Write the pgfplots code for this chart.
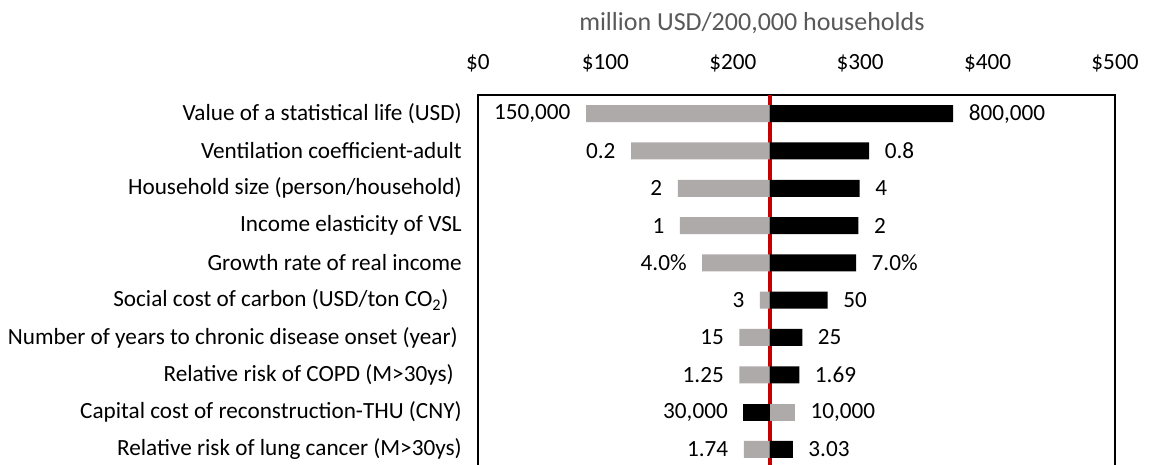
\documentclass[border=0pt]{standalone}
\usepackage{fontspec}
\setmainfont{Carlito}
\usepackage{pgfplots}
\usepackage{pgfplotstable}
\pgfplotsset{compat=1.18}
\definecolor{bargray}{RGB}{174,170,170}
\definecolor{basered}{RGB}{196,0,0}
\definecolor{titlegray}{RGB}{89,89,89}

% gray = result at low input, black = result at high input; base case = 229
\pgfplotstableread{
row gray black llab rlab
0 84.8 373.0 150,000 800,000
1 120.1 307.1 0.2 0.8
2 156.8 299.6 2 4
3 158.5 298.6 1 2
4 176.0 296.8 4.0\% 7.0\%
5 221.3 274.5 3 50
6 205.2 254.6 15 25
7 205.2 252.2 1.25 1.69
8 248.8 208.3 30,000 10,000
9 208.6 247.1 1.74 3.03
}\tornado

\newcommand{\lblfont}{\fontsize{17.4}{20.9}\selectfont}
\pgfplotsset{
  tornadoframe/.style={
    at={(0,0)}, anchor=north west,
    scale only axis, width=477.75pt, height=279.75pt,
    xmin=0, xmax=500, ymin=-0.5, ymax=9.5, y dir=reverse,
    clip=false,
  }
}

\begin{document}
\begin{tikzpicture}
\useasboundingbox (-358.5pt,71.25pt) rectangle (503.25pt,-276.75pt);
\clip (-358.5pt,71.25pt) rectangle (503.25pt,-276.75pt);
\begin{axis}[
  tornadoframe,
  xbar stacked, bar width=12.75pt,
  xtick={0,100,...,500},
  xticklabels={\$0,\$100,\$200,\$300,\$400,\$500},
  xticklabel pos=top,
  ytick={0,...,9},
  yticklabels={
    {Value of a statistical life (USD)},
    {Ventilation coefficient-adult},
    {Household size (person/household)},
    {Income elasticity of VSL},
    {Growth rate of real income},
    {Social cost of carbon (USD/ton CO\textsubscript{2})\hspace*{10pt}},
    {Number of years to chronic disease onset (year)\hspace*{3pt}},
    {Relative risk of COPD (M>30ys)\hspace*{6pt}},
    {Capital cost of reconstruction-THU (CNY)},
    {Relative risk of lung cancer (M>30ys)}},
  major tick length=0pt,
  axis line style={line width=0.8pt},
  tick label style={font=\lblfont},
  xticklabel style={anchor=base, yshift=19.5pt},
  yticklabel style={anchor=east, inner sep=0pt, xshift=-12pt},
  title={million USD/200,000 households},
  title style={at={(0.43,1)}, anchor=base, yshift=42.5pt,
    font=\fontsize{19.5}{23}\selectfont, text=titlegray},
]
\addplot[draw=none, fill=none]
  table[y=row, x expr={min(\thisrow{gray},\thisrow{black})}] {\tornado};
\addplot[draw=none, fill=bargray]
  table[y=row, x expr={max(229-\thisrow{gray},0)}] {\tornado};
\addplot[draw=none, fill=black]
  table[y=row, x expr={max(229-\thisrow{black},0)}] {\tornado};
\addplot[draw=none, fill=black]
  table[y=row, x expr={max(\thisrow{black}-229,0)}] {\tornado};
\addplot[draw=none, fill=bargray]
  table[y=row, x expr={max(\thisrow{gray}-229,0)}] {\tornado};
\addplot[basered, line width=3.2pt, sharp plot, stack plots=false, forget plot, no marks]
  coordinates {(229,-0.5) (229,9.5)};
\end{axis}
% value labels on an overlaid, hidden axis with the same frame
\begin{axis}[tornadoframe, hide axis, point meta=explicit symbolic]
\addplot[only marks, mark=none,
  nodes near coords={\pgfplotspointmeta},
  every node near coord/.append style={anchor=east, inner sep=0pt, xshift=-11.5pt, font=\lblfont, text=black}]
  table[y=row, x expr={min(\thisrow{gray},\thisrow{black})}, meta=llab] {\tornado};
\addplot[only marks, mark=none,
  nodes near coords={\pgfplotspointmeta},
  every node near coord/.append style={anchor=west, inner sep=0pt, xshift=11.5pt, font=\lblfont, text=black}]
  table[y=row, x expr={max(\thisrow{gray},\thisrow{black})}, meta=rlab] {\tornado};
\end{axis}
\end{tikzpicture}
\end{document}
